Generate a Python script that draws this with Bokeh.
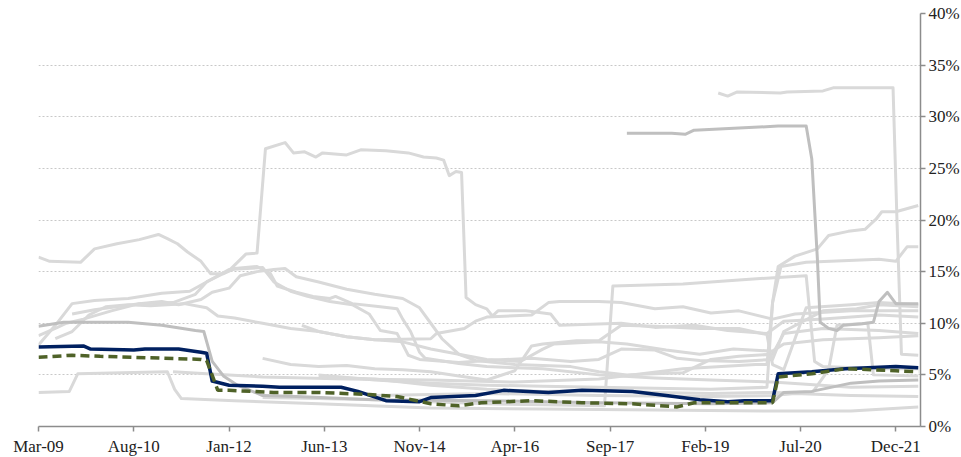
from bokeh.plotting import figure
from bokeh.models import Range1d, FixedTicker
from bokeh.embed import file_html
from bokeh.resources import INLINE

# x = months since Mar-09, y = percent
x_ticks = [0, 17, 34, 51, 68, 85, 102, 119, 136, 153]
x_labels = ["Mar-09", "Aug-10", "Jan-12", "Jun-13", "Nov-14", "Apr-16", "Sep-17", "Feb-19", "Jul-20", "Dec-21"]
y_ticks = [0, 5, 10, 15, 20, 25, 30, 35, 40]
y_labels = ["0%", "5%", "10%", "15%", "20%", "25%", "30%", "35%", "40%"]

navy_m = [0, 8, 9.3, 17, 19, 25, 29, 30, 31, 34, 40, 43, 53, 54, 57, 62, 68, 70, 78, 83, 91, 97, 106, 112, 118, 123, 126, 131, 132, 138, 144, 153, 157]
navy_v = [7.7, 7.8, 7.5, 7.4, 7.5, 7.5, 7.2, 7.1, 4.4, 4.0, 3.9, 3.8, 3.8, 3.8, 3.4, 2.5, 2.4, 2.8, 3.0, 3.5, 3.3, 3.5, 3.4, 3.0, 2.6, 2.4, 2.5, 2.5, 5.1, 5.3, 5.6, 5.8, 5.7]

green_m = [0, 6, 11, 29, 30, 32, 34, 42, 50, 59, 64, 70, 75, 79, 88, 97, 106, 114, 117, 131, 132, 138, 144, 153, 157]
green_v = [6.7, 6.9, 6.8, 6.5, 6.4, 3.5, 3.5, 3.3, 3.3, 3.1, 2.9, 2.2, 2.0, 2.3, 2.5, 2.3, 2.2, 1.9, 2.3, 2.3, 4.8, 5.1, 5.6, 5.4, 5.3]

# light grey peer series
s1_m = [0, 2, 7.5, 10, 14, 18, 21.4, 23, 24.8, 26.6, 29, 30.7, 33, 35, 39, 41.4, 42.6, 46, 49, 52, 53, 56, 61, 64, 65, 66.4, 68, 69, 75, 80, 90, 100, 110, 120, 131, 145, 157]
s1_v = [16.4, 16.0, 15.9, 17.2, 17.7, 18.1, 18.6, 18.2, 17.7, 16.9, 16.0, 14.8, 14.8, 15.3, 15.5, 14.8, 13.6, 13.0, 12.6, 12.4, 12.6, 11.9, 11.6, 11.4, 10.4, 9.2, 7.2, 6.6, 6.1, 5.8, 5.6, 5.0, 4.7, 4.5, 4.3, 3.8, 3.9]

s2_m = [0, 3, 6, 10, 16, 22, 27, 30, 34, 37, 39, 40.5, 44, 45.5, 47.5, 49.5, 50.7, 55, 57.5, 62, 66, 68.7, 71, 72.3, 73.3, 74.5, 75.5, 76.3, 78, 80, 81, 82, 87, 91.4, 93, 104, 110, 117, 123, 130, 133, 140, 150, 157]
s2_v = [7.9, 9.8, 11.9, 12.2, 12.4, 12.9, 13.1, 14.0, 15.1, 16.7, 16.8, 26.9, 27.5, 26.5, 26.6, 26.1, 26.5, 26.3, 26.8, 26.7, 26.5, 26.1, 26.0, 25.8, 24.3, 24.7, 24.6, 12.5, 11.8, 11.4, 10.7, 11.2, 11.2, 10.9, 9.8, 10.0, 9.6, 9.8, 9.3, 9.0, 10.2, 10.4, 10.8, 10.6]

s5_m = [121.3, 123, 124.7, 132.4, 133.6, 140, 141.8, 152.5, 153.2, 154, 157]
s5_v = [32.3, 32.0, 32.4, 32.3, 32.4, 32.5, 32.8, 32.8, 20.0, 7.0, 6.9]

s6_m = [24, 30, 40, 55, 70, 85, 100, 115, 128, 130, 131, 132, 135, 139, 141, 144.5, 147.5, 149.5, 150.5, 153, 157]
s6_v = [5.3, 5.1, 4.8, 4.6, 4.5, 4.3, 4.6, 5.6, 6.0, 6.0, 12.0, 15.5, 16.5, 17.2, 18.5, 18.9, 19.1, 20.1, 20.8, 20.8, 21.4]

s7_m = [50, 60, 70, 80, 90, 100, 110, 120, 130, 131, 132.5, 137, 150, 153, 155, 157]
s7_v = [5.0, 4.5, 4.2, 4.0, 3.9, 3.8, 3.7, 3.6, 3.8, 12.0, 15.5, 15.9, 16.2, 16.0, 17.4, 17.4]

s8_m = [0, 3, 5, 8, 13, 18, 22, 25, 29, 31, 34, 36, 39, 42, 44, 46, 50, 55, 60, 65, 68, 70, 72, 75, 78, 85, 95, 100, 105, 115, 120, 125, 131, 133, 140, 150, 157]
s8_v = [8.8, 9.5, 10.0, 10.4, 11.2, 11.9, 12.1, 11.8, 12.3, 13.0, 13.4, 14.6, 15.0, 15.2, 15.3, 14.5, 14.0, 13.3, 12.8, 12.4, 11.5, 10.0, 8.5, 7.0, 6.4, 6.0, 5.8, 5.3, 5.0, 5.2, 6.5, 6.8, 7.0, 9.0, 9.5, 9.3, 9.0]

s9_m = [0, 5.5, 7, 23, 24.3, 25.5, 35, 50, 70, 90, 110, 130, 145, 157]
s9_v = [3.3, 3.4, 5.1, 5.3, 3.6, 2.7, 2.5, 2.2, 1.8, 1.7, 1.6, 1.5, 1.5, 1.9]

s10_m = [3, 6, 9, 12, 16, 20, 26, 30, 32, 35, 40, 45, 50, 55, 60, 65, 70, 75, 80, 86, 90, 92, 100, 105, 112, 118, 124, 131, 133, 140, 150, 157]
s10_v = [8.5, 9.2, 10.8, 11.6, 11.8, 11.7, 11.9, 11.5, 10.7, 10.5, 10.0, 9.5, 9.2, 8.7, 8.4, 8.2, 7.5, 7.0, 6.5, 6.3, 7.5, 8.0, 8.2, 8.0, 7.4, 7.0, 7.5, 7.3, 8.0, 8.4, 8.6, 8.8]

s11_m = [6, 10, 18, 24, 28, 30, 34, 40, 42, 45, 48, 52, 56, 59, 61, 64, 66, 68, 75, 80, 88, 95, 100, 104, 110, 114, 118, 125, 131, 133, 140, 146, 150, 157]
s11_v = [10.9, 11.3, 11.9, 12.0, 12.8, 14.0, 15.2, 15.4, 14.0, 13.1, 12.6, 12.1, 11.8, 10.9, 9.3, 9.0, 6.9, 6.5, 6.2, 6.4, 6.6, 6.3, 6.5, 7.5, 7.4, 6.6, 6.4, 6.3, 6.5, 9.2, 11.2, 11.4, 11.8, 11.6]

s12_m = [40, 50, 60, 70, 80, 90, 101, 102.5, 115, 125, 137, 138.5, 140, 150, 157]
s12_v = [2.8, 2.7, 2.6, 2.4, 2.2, 2.1, 2.0, 13.6, 13.8, 14.2, 14.6, 6.3, 5.8, 5.6, 5.6]

s13_m = [40, 45, 50, 55, 60, 65, 70, 75, 80, 85, 88, 90, 96, 100, 104, 110, 118, 125, 130, 131, 133, 137, 145, 150, 157]
s13_v = [6.6, 6.0, 5.8, 5.9, 5.6, 5.5, 5.3, 4.9, 4.5, 5.4, 7.8, 8.0, 8.3, 8.3, 9.8, 9.7, 9.5, 9.5, 8.9, 6.0, 5.5, 11.5, 11.8, 12.0, 11.8]

s14_m = [50, 60, 70, 80, 90, 100, 110, 120, 131, 138, 141, 142.5, 148, 149, 157]
s14_v = [4.8, 4.6, 4.0, 3.6, 3.4, 3.5, 3.3, 3.2, 3.3, 3.2, 5.5, 9.8, 10.0, 5.0, 4.9]

s15_m = [60, 80, 100, 120, 131, 135, 145, 157]
s15_v = [3.0, 3.2, 3.0, 2.9, 3.0, 3.2, 3.0, 2.9]

s17_m = [47, 50, 55, 60, 70, 71, 76, 78, 80, 88, 91, 93, 100, 104, 110, 115, 120, 125, 131, 135, 145, 157]
s17_v = [9.8, 9.2, 8.7, 8.4, 8.5, 9.0, 9.5, 10.2, 10.6, 10.8, 12.0, 12.1, 12.1, 12.0, 11.4, 11.6, 11.0, 11.2, 10.4, 10.9, 11.2, 11.2]

# mid grey peer series
s3_m = [0, 4.5, 16, 22, 28, 29.5, 31, 33, 35.5, 40, 46, 60, 80, 100, 120, 131, 133, 138, 145, 150, 157]
s3_v = [9.7, 10.1, 10.1, 9.8, 9.3, 9.2, 6.3, 4.9, 4.0, 3.0, 2.9, 2.6, 2.5, 2.3, 2.2, 2.3, 3.3, 3.4, 4.2, 4.4, 4.5]

s4_m = [105, 113, 115.4, 117, 125, 132, 137, 138, 139, 139.5, 141, 142.5, 143.6, 147, 149, 150, 151.5, 153, 157]
s4_v = [28.4, 28.4, 28.3, 28.7, 28.9, 29.1, 29.1, 25.9, 16.2, 10.1, 9.5, 9.3, 9.8, 9.95, 10.1, 12.1, 13.0, 11.9, 11.9]

light_series = [(s1_m, s1_v), (s2_m, s2_v), (s5_m, s5_v), (s6_m, s6_v), (s7_m, s7_v),
                (s8_m, s8_v), (s9_m, s9_v), (s10_m, s10_v), (s11_m, s11_v), (s12_m, s12_v),
                (s13_m, s13_v), (s14_m, s14_v), (s15_m, s15_v), (s17_m, s17_v)]
mid_series = [(s3_m, s3_v), (s4_m, s4_v)]

FONT = "Liberation Serif"

p = figure(frame_width=882, frame_height=413, output_backend="svg", toolbar_location=None,
           x_range=Range1d(0, 157.4), y_range=Range1d(0, 40),
           y_axis_location="right", min_border_left=38, min_border_right=0,
           min_border_top=13, min_border_bottom=0)
p.outline_line_color = None
p.background_fill_color = "white"

for mm, vv in light_series:
    p.line(mm, vv, line_color="#d9d9d9", line_width=3, line_join="round")
for mm, vv in mid_series:
    p.line(mm, vv, line_color="#bfbfbf", line_width=3, line_join="round")

p.line(navy_m, navy_v, line_color="#002060", line_width=3.5, line_join="round")
p.line(green_m, green_v, line_color="#4f6228", line_width=3.5, line_dash="9 5")

p.xgrid.visible = False
p.ygrid.ticker = FixedTicker(ticks=y_ticks[1:])
p.ygrid.grid_line_color = "#c8c8c8"
p.ygrid.grid_line_dash = "2 2"
p.ygrid.grid_line_width = 1

p.xaxis.ticker = FixedTicker(ticks=x_ticks)
p.xaxis.major_label_overrides = {t: l for t, l in zip(x_ticks, x_labels)}
p.yaxis.ticker = FixedTicker(ticks=y_ticks)
p.yaxis.major_label_overrides = {t: l for t, l in zip(y_ticks, y_labels)}

for ax in (p.xaxis, p.yaxis):
    ax.axis_line_color = "#8c8c8c"
    ax.axis_line_width = 1.5
    ax.major_tick_line_color = "#8c8c8c"
    ax.major_tick_line_width = 1.5
    ax.major_tick_out = 5
    ax.major_tick_in = 0
    ax.minor_tick_line_color = None
    ax.major_label_text_font = FONT
    ax.major_label_text_font_size = "17px"
    ax.major_label_text_color = "#222222"
    ax.axis_label_standoff = 0
p.xaxis.major_label_standoff = 5
p.yaxis.major_label_standoff = 3

open("out.html", "w").write(file_html(p, INLINE))
